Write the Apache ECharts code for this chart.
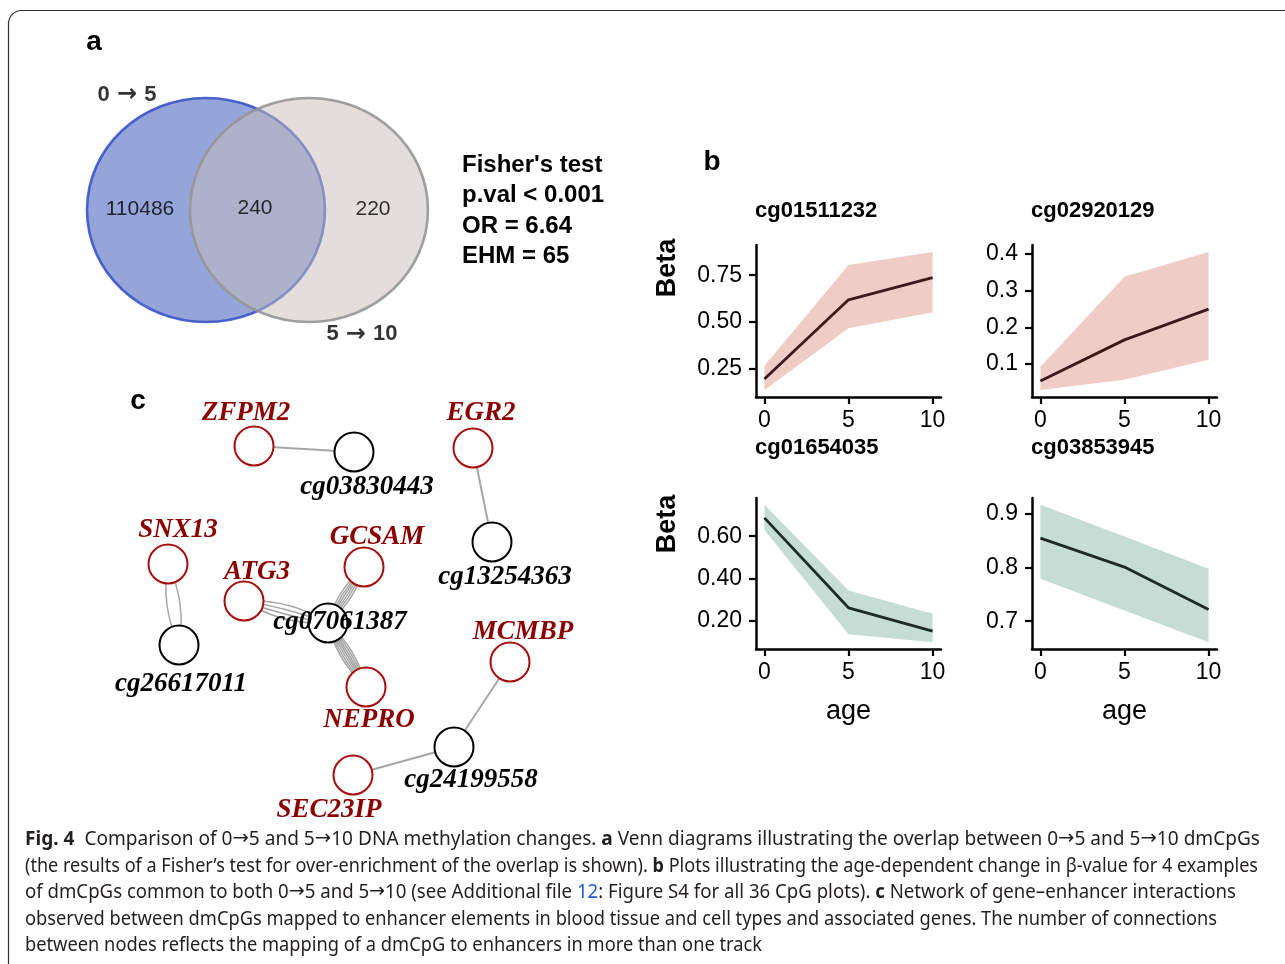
<!DOCTYPE html>
<html><head><meta charset="utf-8">
<script src="https://cdn.jsdelivr.net/npm/echarts@6/dist/echarts.min.js"></script>
<style>html,body{margin:0;padding:0;background:#fff}#c{width:1285px;height:964px}</style>
</head><body><div id="c"></div>
<script>
// ================= DATA =================
// Panel a: Venn
const vennSets = ['0 \u2192 5', '5 \u2192 10'];
const vennCounts = [110486, 240, 220]; // only 0->5, both, only 5->10
const fisherLines = ["Fisher's test", 'p.val < 0.001', 'OR = 6.64', 'EHM = 65'];

// Panel b: beta vs age
const ages = [0, 5, 10];
const cpgTitles = ['cg01511232', 'cg02920129', 'cg01654035', 'cg03853945'];
const meanBeta = [
  [0.193, 0.618, 0.737],
  [0.054, 0.166, 0.250],
  [0.687, 0.260, 0.149],
  [0.855, 0.801, 0.722]
];
const lowerBeta = [
  [0.134, 0.466, 0.551],
  [0.029, 0.057, 0.112],
  [0.630, 0.134, 0.097],
  [0.779, 0.720, 0.661]
];
const upperBeta = [
  [0.264, 0.805, 0.875],
  [0.093, 0.338, 0.406],
  [0.749, 0.342, 0.232],
  [0.917, 0.858, 0.798]
];
const yTicks = [
  [0.25, 0.50, 0.75],
  [0.1, 0.2, 0.3, 0.4],
  [0.20, 0.40, 0.60],
  [0.7, 0.8, 0.9]
];
const xTicks = [0, 5, 10];

// Panel c: network
const genes = ['ZFPM2', 'EGR2', 'SNX13', 'ATG3', 'GCSAM', 'NEPRO', 'MCMBP', 'SEC23IP'];
const cpgs = ['cg03830443', 'cg13254363', 'cg26617011', 'cg07061387', 'cg24199558'];
const links = [
  ['ZFPM2', 'cg03830443'], ['EGR2', 'cg13254363'], ['SNX13', 'cg26617011'],
  ['ATG3', 'cg07061387'], ['GCSAM', 'cg07061387'], ['NEPRO', 'cg07061387'],
  ['MCMBP', 'cg24199558'], ['SEC23IP', 'cg24199558']
];
const linkTracks = [1, 1, 2, 4, 6, 7, 1, 1];

// Caption (segment kinds: n normal, b bold, l link, r arrow)
const captionLines = [
  [['b', 'Fig. 4'], ['n', '  Comparison of 0'], ['r', '\u2192'], ['n', '5 and 5'], ['r', '\u2192'], ['n', '10 DNA methylation changes. '], ['b', 'a'], ['n', ' Venn diagrams illustrating the overlap between 0'], ['r', '\u2192'], ['n', '5 and 5'], ['r', '\u2192'], ['n', '10 dmCpGs']],
  [['n', '(the results of a Fisher\u2019s test for over-enrichment of the overlap is shown). '], ['b', 'b'], ['n', ' Plots illustrating the age-dependent change in \u03b2-value for 4 examples']],
  [['n', 'of dmCpGs common to both 0'], ['r', '\u2192'], ['n', '5 and 5'], ['r', '\u2192'], ['n', '10 (see Additional file '], ['l', '12'], ['n', ': Figure S4 for all 36 CpG plots). '], ['b', 'c'], ['n', ' Network of gene\u2013enhancer interactions']],
  [['n', 'observed between dmCpGs mapped to enhancer elements in blood tissue and cell types and associated genes. The number of connections']],
  [['n', 'between nodes reflects the mapping of a dmCpG to enhancers in more than one track']]
];

// ================= LAYOUT / STYLE =================
const vennLayout = {
  centers: [[0, 0], [1, 0]], radii: [1.155, 1.0],
  fills: ['rgba(43,75,181,0.5)', 'rgba(199,189,185,0.5)'],
  strokes: ['rgba(58,84,200,0.9)', 'rgba(150,150,150,0.9)'],
  setLabelPos: [[-0.767, 1.03], [1.515, -1.11]],
  countPos: [[-0.641, 0.01], [0.476, 0.02], [1.621, 0.01]]
};
const nodePos = {
  ZFPM2: [154, 66], cg03830443: [254, 72], EGR2: [373, 68], cg13254363: [392, 162],
  SNX13: [68, 184], cg26617011: [79, 265], ATG3: [144, 221], GCSAM: [264, 187],
  cg07061387: [228, 243], NEPRO: [266, 307], MCMBP: [410, 282], cg24199558: [354, 367],
  SEC23IP: [253, 395]
};
const labelOffset = {
  ZFPM2: [-8, -33], cg03830443: [13, 35], EGR2: [8, -35], cg13254363: [13, 35],
  SNX13: [10, -34], cg26617011: [2, 39], ATG3: [13, -29], GCSAM: [13, -30],
  cg07061387: [12, -1], NEPRO: [3, 33], MCMBP: [13, -30], cg24199558: [17, 33],
  SEC23IP: [-24, 35]
};
const bandColors = ['#f0ccc6', '#f0ccc6', '#c6ddd6', '#c6ddd6'];
const lineColors = ['#3b1a1a', '#3b1a1a', '#1c2b25', '#1c2b25'];
const yDecimals = [2, 1, 2, 1];
const SANS = '"Liberation Sans", Arial, Helvetica, sans-serif';
const SERIF = '"Liberation Serif", "Times New Roman", serif';
const CAP = '"Noto Sans", "Open Sans", sans-serif';
const ARROW = '"DejaVu Sans", sans-serif';

const chart = echarts.init(document.getElementById('c'), null, {renderer: 'canvas'});

// ---- grids & axes ----
const grids = [
  {left: 40, top: 60, width: 600, height: 300},
  {left: 100, top: 380, width: 500, height: 450},
  {left: 756, top: 245, width: 185, height: 152},
  {left: 1032, top: 245, width: 185, height: 152},
  {left: 756, top: 498, width: 185, height: 151},
  {left: 1032, top: 498, width: 185, height: 151}
].map(g => Object.assign({containLabel: false, outerBoundsMode: 'none'}, g));

const xAxes = [
  {gridIndex: 0, type: 'value', min: -1.6117, max: 4.2136, show: false},
  {gridIndex: 1, type: 'value', min: 0, max: 500, show: false}
];
const yAxes = [
  {gridIndex: 0, type: 'value', min: -1.3393, max: 1.3393, show: false},
  {gridIndex: 1, type: 'value', min: 0, max: 450, inverse: true, show: false}
];
const axisLineStyle = {color: '#000', width: 2.5};
for (let i = 0; i < 4; i++) {
  const lo = Math.min(...lowerBeta[i]), hi = Math.max(...upperBeta[i]);
  const pad = (hi - lo) * 0.05;
  const xr = ages[ages.length - 1] - ages[0];
  xAxes.push({
    gridIndex: i + 2, type: 'value', min: ages[0] - xr * 0.05, max: ages[ages.length - 1] + xr * 0.05,
    axisLine: {show: true, onZero: false, lineStyle: axisLineStyle},
    axisTick: {show: true, length: 7, lineStyle: {color: '#000', width: 2.2}, customValues: xTicks},
    axisLabel: {customValues: xTicks, fontFamily: SANS, fontSize: 23, color: '#000', margin: 12},
    splitLine: {show: false},
    name: i >= 2 ? 'age' : '', nameLocation: 'middle', nameGap: 49,
    nameTextStyle: {fontFamily: SANS, fontSize: 27, color: '#000'}
  });
  const dec = yDecimals[i];
  yAxes.push({
    gridIndex: i + 2, type: 'value', min: lo - pad, max: hi + pad,
    axisLine: {show: true, onZero: false, lineStyle: axisLineStyle},
    axisTick: {show: true, length: 7, lineStyle: {color: '#000', width: 2.2}, customValues: yTicks[i]},
    axisLabel: {customValues: yTicks[i], fontFamily: SANS, fontSize: 23, color: '#000', margin: 14,
      formatter: v => Number(v).toFixed(dec)},
    splitLine: {show: false}
  });
}

// ---- series ----
const series = [];
// Venn ellipses
series.push({
  type: 'custom', xAxisIndex: 0, yAxisIndex: 0, clip: false, silent: true,
  data: vennLayout.centers.map((c, i) => ({value: c, name: vennSets[i]})),
  renderItem: (params, api) => {
    const i = params.dataIndex;
    const c = api.coord([api.value(0), api.value(1)]);
    const s = api.size([vennLayout.radii[0], vennLayout.radii[1]]);
    return {type: 'ellipse', shape: {cx: c[0], cy: c[1], rx: s[0], ry: s[1]},
      style: {fill: vennLayout.fills[i], stroke: vennLayout.strokes[i], lineWidth: 2.6}};
  }
});
// Venn labels
const arrowRich = {
  t: {fontFamily: SANS, fontWeight: 'bold', fontSize: 22, color: '#000'},
  r: {fontFamily: ARROW, fontWeight: 'bold', fontSize: 24, color: '#000', padding: [0, 1, 0, 1]}
};
series.push({
  type: 'scatter', xAxisIndex: 0, yAxisIndex: 0, symbolSize: 0, silent: true, clip: false,
  data: vennSets.map((s, i) => ({value: vennLayout.setLabelPos[i], name: s,
      label: {formatter: p => p.name.split(' ').map(w => w === '\u2192' ? '{r|' + w + '}' : '{t|' + w + '}').join('{t| }'), rich: arrowRich}}))
    .concat(vennCounts.map((v, i) => ({value: vennLayout.countPos[i], name: String(v), label: {fontSize: 21}}))),
  label: {show: true, position: 'inside', formatter: p => p.name, fontFamily: SANS, color: '#000'}
});
// Panel b series
for (let i = 0; i < 4; i++) {
  const ax = i + 2;
  series.push({
    type: 'custom', xAxisIndex: ax, yAxisIndex: ax, silent: true, z: 2,
    data: ages.map((a, j) => [a, lowerBeta[i][j], upperBeta[i][j]]),
    renderItem: (params, api) => {
      if (params.dataIndex !== 0) return null;
      const top = ages.map((a, j) => api.coord([a, upperBeta[i][j]]));
      const bot = ages.map((a, j) => api.coord([a, lowerBeta[i][j]])).reverse();
      return {type: 'polygon', shape: {points: top.concat(bot)}, style: {fill: bandColors[i]}};
    }
  });
  series.push({
    type: 'line', xAxisIndex: ax, yAxisIndex: ax, symbol: 'none', silent: true, z: 3,
    lineStyle: {color: lineColors[i], width: 2.8}, data: ages.map((a, j) => [a, meanBeta[i][j]])
  });
}
// Network
const allNodes = genes.concat(cpgs);
const graphNodes = allNodes.map(n => {
  const isGene = genes.includes(n);
  return {
    name: n, value: nodePos[n],
    itemStyle: {color: '#fff', borderColor: isGene ? '#a80d0d' : '#000', borderWidth: 2},
    label: {show: true, position: 'inside', offset: labelOffset[n], color: isGene ? '#8b0000' : '#000'}
  };
});
const graphLinks = [];
links.forEach((l, k) => {
  const n = linkTracks[k];
  for (let t = 0; t < n; t++) {
    const c = n > 1 ? 0.16 * (2 * t / (n - 1) - 1) : 0;
    graphLinks.push({source: l[0], target: l[1], lineStyle: {curveness: c, width: n > 1 ? 1.5 : 2}});
  }
});
series.push({
  type: 'graph', coordinateSystem: 'cartesian2d', xAxisIndex: 1, yAxisIndex: 1, silent: true,
  symbol: 'circle', symbolSize: 39, data: graphNodes, links: graphLinks,
  lineStyle: {color: '#a6a6a6', width: 1.6, opacity: 1},
  label: {fontFamily: SERIF, fontStyle: 'italic', fontWeight: 'bold', fontSize: 27},
  emphasis: {disabled: true}
});

// ---- graphic text ----
const graphics = [];
graphics.push({type: 'rect', shape: {x: 8.5, y: 10.5, width: 1320, height: 1000, r: 13},
  style: {fill: 'none', stroke: '#333', lineWidth: 1.2}, z: 0});
const letter = (t, x, y) => ({type: 'text', x, y, style: {text: t, font: 'bold 28px ' + SANS, fill: '#000', align: 'center', verticalAlign: 'middle'}});
graphics.push(letter('a', 94, 42), letter('b', 712, 162), letter('c', 138, 401));
fisherLines.forEach((t, i) => graphics.push({type: 'text', x: 462, y: [165, 195, 226, 256][i],
  style: {text: t, font: 'bold 24px ' + SANS, fill: '#000', align: 'left', verticalAlign: 'middle'}}));
cpgTitles.forEach((t, i) => graphics.push({type: 'text', x: [755, 1031][i % 2], y: [211, 448][Math.floor(i / 2)],
  style: {text: t, font: 'bold 22px ' + SANS, fill: '#000', align: 'left', verticalAlign: 'middle'}}));
[268, 524].forEach(y => graphics.push({type: 'text', x: 668, y, rotation: Math.PI / 2,
  style: {text: 'Beta', font: 'bold 27px ' + SANS, fill: '#000', align: 'center', verticalAlign: 'middle'}}));

// caption
const capFont = {n: '19.5px ' + CAP, b: 'bold 19.5px ' + CAP, l: '19.5px ' + CAP, r: '20px ' + ARROW};
const ctx = document.createElement('canvas').getContext('2d');
const capTargets = [1235, 1233, 1211, 1192, 737];
const capY = [839, 866, 892, 919, 945];
captionLines.forEach((segs, i) => {
  let w = 0;
  segs.forEach(s => { ctx.font = capFont[s[0]]; w += ctx.measureText(s[1]).width; });
  const sx = capTargets[i] / w;
  graphics.push({type: 'text', x: 25, y: capY[i], scaleX: sx,
    style: {
      text: segs.map(s => '{' + s[0] + '|' + s[1] + '}').join(''),
      verticalAlign: 'middle', align: 'left',
      rich: {
        n: {fontFamily: CAP, fontSize: 19.5, fill: '#231f20'},
        b: {fontFamily: CAP, fontSize: 19.5, fontWeight: 'bold', fill: '#231f20'},
        l: {fontFamily: CAP, fontSize: 19.5, fill: '#1f5bd0'},
        r: {fontFamily: ARROW, fontSize: 20, fill: '#231f20'}
      }
    }});
});

chart.setOption({
  animation: false,
  backgroundColor: '#fff',
  grid: grids, xAxis: xAxes, yAxis: yAxes, series, graphic: graphics
});
</script></body></html>
